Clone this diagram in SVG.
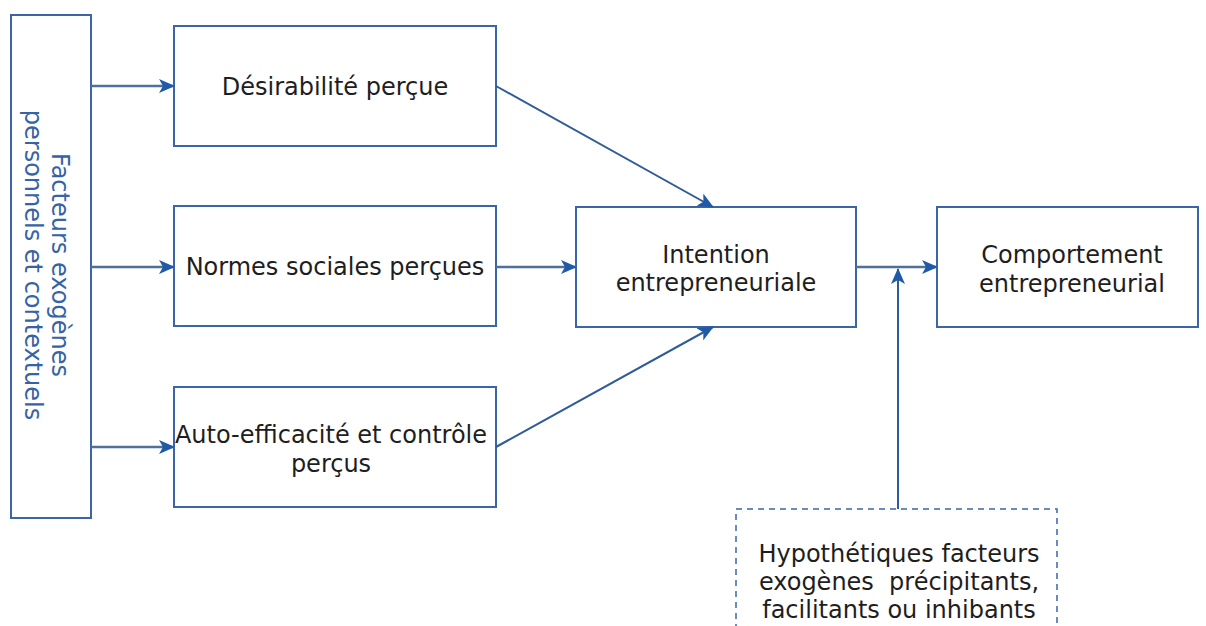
<svg xmlns="http://www.w3.org/2000/svg" width="1206" height="626" viewBox="0 0 1206 626">
<style>
.box{fill:#ffffff;stroke:#3a66a8;stroke-width:2}
.dash{fill:#ffffff;stroke:#3a66a8;stroke-width:1.5;stroke-dasharray:6 5}
.t{font-family:"DejaVu Sans",Verdana,sans-serif;font-size:24px;fill:#1e1e1e;text-anchor:middle}
.tv{font-family:"DejaVu Sans",Verdana,sans-serif;font-size:24px;fill:#3563a6;text-anchor:middle}
.c{fill:none;stroke:#2f5b98;stroke-width:2}
.cl{fill:none;stroke:#50709c;stroke-width:2.5}
</style>
<defs>
<marker id="ah" markerWidth="16" markerHeight="14" refX="15" refY="7" orient="auto" markerUnits="userSpaceOnUse">
<path d="M0,0 L16,7 L0,14 L4,7 Z" fill="#1f5aa8"/>
</marker>
</defs>
<rect width="1206" height="626" fill="#ffffff"/>
<g id="exogenes">
<rect class="box" x="11" y="15" width="80" height="503"/>
<g transform="translate(47,265) rotate(90)">
<text class="tv" x="0" y="-5">Facteurs exogènes</text>
<text class="tv" x="0" y="22">personnels et contextuels</text>
</g>
</g>
<g id="desirabilite">
<rect class="box" x="174" y="26" width="322" height="120"/>
<text class="t" x="335" y="95">Désirabilité perçue</text>
</g>
<g id="normes">
<rect class="box" x="174" y="206" width="322" height="120"/>
<text class="t" x="335" y="275">Normes sociales perçues</text>
</g>
<g id="auto">
<rect class="box" x="174" y="387" width="322" height="120"/>
<text class="t" x="331" y="443">Auto-efficacité et contrôle</text>
<text class="t" x="331" y="472">perçus</text>
</g>
<g id="intention">
<rect class="box" x="576" y="207" width="280" height="120"/>
<text class="t" x="716" y="263">Intention</text>
<text class="t" x="716" y="291">entrepreneuriale</text>
</g>
<g id="comportement">
<rect class="box" x="937" y="207" width="261" height="120"/>
<text class="t" x="1072" y="263">Comportement</text>
<text class="t" x="1072" y="292">entrepreneurial</text>
</g>
<g id="hypothetiques">
<rect class="dash" x="736" y="509" width="321" height="130"/>
<text class="t" x="899" y="562">Hypothétiques facteurs</text>
<text class="t" x="899" y="590" xml:space="preserve">exogènes  précipitants,</text>
<text class="t" x="899" y="618">facilitants ou inhibants</text>
</g>
<g id="connectors">
<line class="cl" x1="91" y1="86" x2="174" y2="86" marker-end="url(#ah)"/>
<line class="cl" x1="91" y1="267" x2="174" y2="267" marker-end="url(#ah)"/>
<line class="cl" x1="91" y1="447" x2="174" y2="447" marker-end="url(#ah)"/>
<line class="c" x1="496" y1="86" x2="713" y2="207" marker-end="url(#ah)"/>
<line class="cl" x1="496" y1="267" x2="576" y2="267" marker-end="url(#ah)"/>
<line class="c" x1="496" y1="447" x2="713" y2="327" marker-end="url(#ah)"/>
<line class="cl" x1="856" y1="267" x2="937" y2="267" marker-end="url(#ah)"/>
<line class="c" x1="898" y1="509" x2="898" y2="269" marker-end="url(#ah)"/>
</g>
</svg>
